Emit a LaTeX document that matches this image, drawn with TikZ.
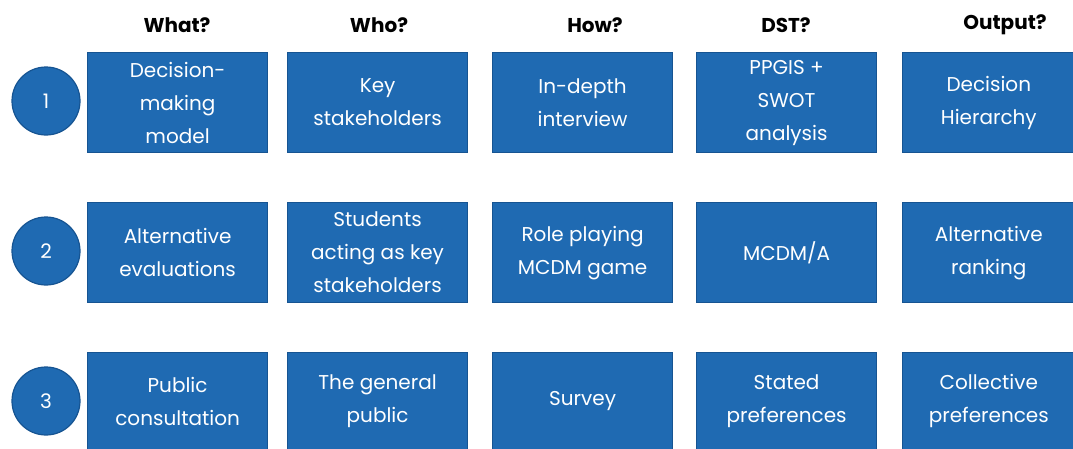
\documentclass[tikz,border=0pt]{standalone}
\usepackage{fontspec}
\setmainfont{Poppins}
\definecolor{boxblue}{RGB}{31,106,178}
\definecolor{boxedge}{RGB}{22,84,146}
\begin{document}
\begin{tikzpicture}[x=1pt,y=-1pt,
  cell/.style={draw=boxedge,line width=1.2pt,fill=boxblue,text=white,
    minimum width=180pt,minimum height=100pt,inner sep=0pt,
    anchor=north west,align=center,font=\fontsize{20}{33}\selectfont},
  lastcol/.style={minimum width=172.4pt},
  lastrow/.style={minimum height=97.4pt},
  stage/.style={circle,draw=boxedge,line width=1.2pt,fill=boxblue,
    text=white,minimum size=68pt,inner sep=0pt,font=\fontsize{20}{22}\selectfont},
  head/.style={font=\bfseries\fontsize{20}{22}\selectfont}]
  \clip (0,0) rectangle (1073,448);
  \path[use as bounding box] (0,0) rectangle (1073,448);
  % column headers
  \node[head] (what) at (177,25) {What?};
  \node[head] (who) at (379,25) {Who?};
  \node[head] (how) at (595,25) {How?};
  \node[head] (dst) at (786,25) {DST?};
  \node[head] (out) at (1005,25) {Output?};
  % stage numbers
  \foreach \n/\y in {1/101,2/251,3/401}
    \node[stage] (s\n) at (46,\y) {\n};
  % row 1
  \node[cell] (what1) at (87,52) {Decision-\\making\\model};
  \node[cell] (who1) at (287,52) {Key\\stakeholders};
  \node[cell] (how1) at (492,52) {In-depth\\interview};
  \node[cell] (dst1) at (696,52) {PPGIS +\\SWOT\\analysis};
  \node[cell,lastcol] (out1) at (902,52) {Decision\\Hierarchy};
  % row 2
  \node[cell] (what2) at (87,202) {Alternative\\evaluations};
  \node[cell] (who2) at (287,202) {Students\\acting as key\\stakeholders};
  \node[cell] (how2) at (492,202) {Role playing\\MCDM game};
  \node[cell] (dst2) at (696,202) {MCDM/A};
  \node[cell,lastcol] (out2) at (902,202) {Alternative\\ranking};
  % row 3
  \node[cell,lastrow] (what3) at (87,352) {Public\\consultation};
  \node[cell,lastrow] (who3) at (287,352) {The general\\public};
  \node[cell,lastrow] (how3) at (492,352) {Survey};
  \node[cell,lastrow] (dst3) at (696,352) {Stated\\preferences};
  \node[cell,lastrow,lastcol] (out3) at (902,352) {Collective\\preferences};
\end{tikzpicture}
\end{document}
